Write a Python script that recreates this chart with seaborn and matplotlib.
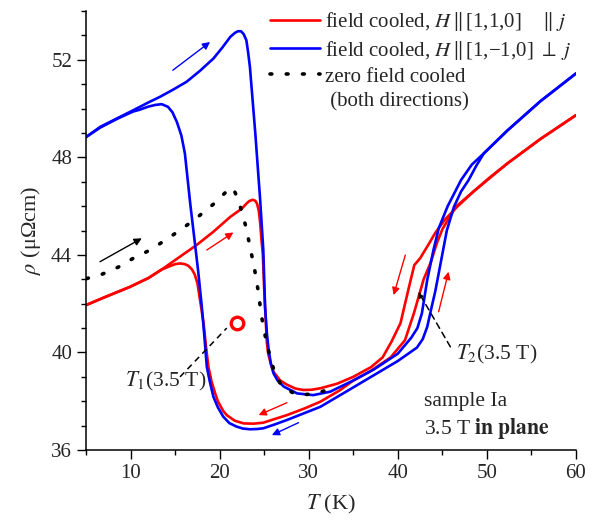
import numpy as np
import pandas as pd
import matplotlib
matplotlib.use("Agg")
import matplotlib.pyplot as plt
from matplotlib.lines import Line2D
import seaborn as sns

# ---- resistivity branches, rho in micro-Ohm cm vs T in K ----
# field cooled, H || [1,1,0] (parallel to j): branch through the high peak
red_a_T = [5, 7, 9.94, 12, 13.7, 15.56, 17.4, 19.3, 21.2, 22.5, 23.0, 23.3, 23.7, 24.0, 24.2,
           24.4, 24.55, 24.7, 24.85, 25.0, 25.15, 25.3, 25.45, 25.8, 26.05, 26.8, 27.55, 28.5,
           29.4, 30.3, 31.3, 33.2, 35, 37, 38.3, 39.3, 40.3, 41.2, 41.85, 42.5, 43.4, 44.2,
           45.3, 46.65, 48.5, 50.4, 52.3, 56, 60]
red_a_rho = [41.94, 42.25, 42.69, 43.05, 43.45, 43.93, 44.4, 44.95, 45.56, 45.9, 46.1, 46.2,
             46.26, 46.22, 46.1, 45.8, 45.3, 44.6, 44.0, 42.6, 41.5, 40.4, 39.95, 39.45, 39.2,
             38.85, 38.68, 38.52, 38.46, 38.47, 38.53, 38.72, 39.0, 39.4, 39.8, 40.45, 41.2,
             42.6, 43.58, 43.86, 44.4, 44.9, 45.45, 45.97, 46.6, 47.2, 47.75, 48.75, 49.73]
# field cooled, H || [1,1,0]: branch through the low minimum
red_b_T = [60, 56, 52.3, 48.5, 46.5, 45.0, 44.4, 43.65, 42.9, 41.8, 40.8, 39.2, 37, 35, 33.5,
           31.3, 29.5, 27.55, 26, 24.9, 23.8, 22.7, 21.7, 20.8, 20.4, 20.1, 19.8, 19.5, 19.1,
           18.74, 18.45, 18.2, 17.8, 17.5, 17.2, 16.9, 16.5, 16.1, 15.56, 15.0, 14.5, 13.5, 12,
           9.94, 7, 5]
red_b_rho = [49.73, 48.75, 47.75, 46.6, 45.97, 45.05, 44.5, 43.65, 43.0, 41.6, 40.5, 39.8, 39.25,
             38.85, 38.45, 37.98, 37.7, 37.43, 37.25, 37.12, 37.08, 37.09, 37.2, 37.43, 37.6,
             37.8, 38.0, 38.32, 38.8, 39.41, 40.3, 41.2, 42.15, 42.85, 43.2, 43.4, 43.55, 43.62,
             43.65, 43.62, 43.55, 43.4, 43.05, 42.69, 42.25, 41.94]
# field cooled, H || [1,-1,0] (perpendicular to j): branch through the high peak
blue_c_T = [5, 6.6, 8.5, 10.3, 12, 13.3, 14.8, 16.3, 17.8, 19.3, 20.3, 21.2, 21.7, 22.05, 22.4,
            22.7, 23.0, 23.2, 23.4, 24.0, 24.55, 24.9, 25.1, 25.3, 25.5, 25.75, 26.05, 26.5,
            27.2, 28.7, 30.5, 32.4, 35, 37.3, 40, 41.5, 42.2, 42.7, 43.3, 44.0, 44.6, 45.6,
            47.1, 48.3, 49.65, 52.3, 56, 60]
blue_c_rho = [48.83, 49.25, 49.6, 49.93, 50.25, 50.48, 50.78, 51.1, 51.55, 52.05, 52.5, 52.94,
              53.1, 53.17, 53.17, 53.05, 52.8, 52.3, 51.7, 49.0, 46.25, 44.2, 41.87, 40.8, 40.1,
              39.55, 39.14, 38.85, 38.6, 38.32, 38.25, 38.39, 38.85, 39.3, 39.95, 40.6, 41.0,
              41.6, 42.97, 44.2, 45.1, 46.0, 47.07, 47.7, 48.16, 49.1, 50.3, 51.44]
# field cooled, H || [1,-1,0]: branch through the low minimum
blue_d_T = [60, 56, 52.3, 49.65, 48.8, 47.95, 47.1, 46.3, 45.5, 44.8, 44.2, 43.8, 43.3, 42.8,
            42.15, 40, 37, 34, 31.3, 27.55, 26.2, 24.9, 24.2, 23.4, 22.6, 21.9, 21.1, 20.4,
            19.8, 19.3, 18.9, 18.56, 18.3, 18.0, 17.6, 17.25, 16.7, 16.1, 15.7, 15.2, 14.7,
            14.2, 13.5, 12.8, 12, 11, 10.3, 8.5, 6.6, 5]
blue_d_rho = [51.44, 50.3, 49.1, 48.16, 47.65, 47.07, 46.6, 45.97, 45.0, 43.65, 42.5, 41.87,
              41.05, 40.55, 40.2, 39.65, 39.0, 38.35, 37.77, 37.23, 37.05, 36.89, 36.86, 36.85,
              36.88, 36.96, 37.1, 37.37, 37.75, 38.18, 38.8, 39.41, 40.6, 41.87, 43.3, 44.4,
              46.1, 48.16, 48.9, 49.45, 49.85, 50.07, 50.18, 50.15, 50.08, 49.95, 49.88, 49.58,
              49.22, 48.83]
# zero field cooled (both directions)
zfc_T = [5.07, 6.76, 8.63, 10.3, 12.2, 14.0, 15.75, 17.5, 19.3, 21.0, 21.5, 22.1, 22.6, 23.06,
         23.4, 23.8, 24.1, 24.4, 24.6, 24.9, 25.3, 25.7, 26.2, 27.0, 28.7, 30.5, 32.4]
zfc_rho = [43.03, 43.2, 43.5, 43.86, 44.2, 44.63, 45.06, 45.54, 46.08, 46.68, 46.75, 46.25,
           45.63, 44.99, 44.33, 43.65, 43.04, 42.35, 41.74, 41.05, 40.37, 39.76, 39.14, 38.6,
           38.25, 38.3, 38.49]

# transition point T1 at 3.5 T
t1_T = [21.9]
t1_rho = [41.22]

legend_labels = ["field cooled, $H$$\\,\\|\\,$[1,1,0]    $\\|$ $j$",
                 "field cooled, $H$$\\,\\|\\,$[1,\u22121,0] $\\perp$ $j$",
                 "zero field cooled",
                 " (both directions)"]

RED = "#ff0000"
BLUE = "#0000ff"

sns.set_style("ticks")
plt.rcParams["font.family"] = ["Liberation Serif", "DejaVu Serif"]
plt.rcParams["mathtext.fontset"] = "stix"

fig = plt.figure(figsize=(5.94, 5.2), dpi=100)
ax = fig.add_axes([86 / 594, 1 - 450 / 520, 490 / 594, 439 / 520])

branches = [(red_a_T, red_a_rho, RED), (red_b_T, red_b_rho, RED),
            (blue_c_T, blue_c_rho, BLUE), (blue_d_T, blue_d_rho, BLUE)]
for tt, rr, col in branches:
    df = pd.DataFrame({"T": tt, "rho": rr})
    sns.lineplot(data=df, x="T", y="rho", sort=False, estimator=None, color=col,
                 lw=1.9, ax=ax, solid_joinstyle="round")

zdf = pd.DataFrame({"T": zfc_T, "rho": zfc_rho})
sns.lineplot(data=zdf, x="T", y="rho", sort=False, estimator=None, color="black",
             lw=2.6, linestyle=(0, (0.5, 4.0)), dash_capstyle="round", ax=ax)

ax.plot(t1_T, t1_rho, marker="o", ms=9, mew=2.4, mfc="none", mec=RED, ls="none")

# direction arrows
def arrow(x0, y0, x1, y1, col):
    ax.annotate("", xy=(x1, y1), xytext=(x0, y0),
                arrowprops=dict(arrowstyle="-|>", color=col, lw=1.0,
                                mutation_scale=11, shrinkA=0, shrinkB=0))

arrow(14.74, 51.57, 18.93, 52.73, BLUE)
arrow(6.57, 43.72, 11.26, 44.68, "black")
arrow(18.56, 44.2, 21.55, 44.92, RED)
arrow(27.55, 37.94, 24.37, 37.43, RED)
arrow(28.85, 37.12, 25.86, 36.61, BLUE)
arrow(40.84, 43.99, 39.53, 42.35, RED)
arrow(44.58, 41.67, 45.7, 43.31, RED)

# pointers to the transitions
ax.plot([15.56, 20.8], [39.0, 41.0], color="black", lw=1.1, ls=(0, (4, 3)))
ax.annotate("", xy=(42.3, 42.49), xytext=(45.9, 40.23),
            arrowprops=dict(arrowstyle="-|>", color="black", lw=1.1, ls=(0, (4, 3)),
                            mutation_scale=8, shrinkA=0, shrinkB=0))

fs = 15.5
ax.text(9.4, 38.8, "$T_1$(3.5 T)", fontsize=fs, va="center", ha="left")
ax.text(46.5, 39.93, "$T_2$(3.5 T)", fontsize=fs, va="center", ha="left")
ax.text(42.9, 37.98, "sample Ia", fontsize=fs, va="center", ha="left")
ax.text(42.9, 36.89, "3.5 T $\\mathbf{in\\ plane}$", fontsize=fs, va="center", ha="left")

handles = [Line2D([], [], color=RED, lw=1.9),
           Line2D([], [], color=BLUE, lw=1.9),
           Line2D([], [], color="black", lw=2.6, ls=(0, (0.5, 4.0)), dash_capstyle="round"),
           Line2D([], [], color="none")]
ax.legend(handles, legend_labels, loc="upper left", bbox_to_anchor=(0.35, 1.03),
          frameon=False, fontsize=15, handlelength=2.4, handletextpad=0.25,
          labelspacing=0.26, borderaxespad=0.2)

ax.set_xlim(5, 60)
ax.set_ylim(36, 54)
ax.set_xticks([10, 20, 30, 40, 50, 60])
ax.set_xticks(np.arange(5, 61, 5), minor=True)
ax.set_yticks([36, 40, 44, 48, 52])
ax.set_yticks(np.arange(36, 55, 1), minor=True)
ax.tick_params(which="major", direction="out", length=6.5, width=1.0, labelsize=15, color="black")
ax.tick_params(which="minor", direction="out", length=3.5, width=1.0, color="black")
for s in ["left", "bottom"]:
    ax.spines[s].set_linewidth(1.1)
    ax.spines[s].set_color("black")
sns.despine(ax=ax)

ax.set_xlabel("$T$ (K)", fontsize=16, labelpad=7)
ax.set_ylabel("$\\rho$ (\u03bc\u03a9cm)", fontsize=16, labelpad=6)

fig.savefig("out.png", dpi=100)
